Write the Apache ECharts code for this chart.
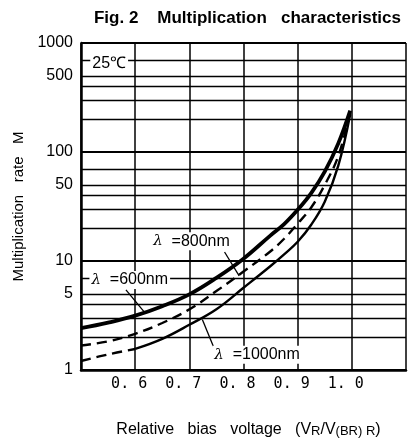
<!DOCTYPE html>
<html>
<head>
<meta charset="utf-8">
<script src="https://cdn.jsdelivr.net/npm/echarts@6/dist/echarts.min.js"></script>
<style>
  html, body { margin: 0; padding: 0; background: #fff; }
  #chart { width: 409px; height: 443px; }
</style>
</head>
<body>
<div id="chart"></div>
<script>
// relative bias voltage VR/V(BR)R
const voltage = [0.5, 0.55, 0.6, 0.65, 0.7, 0.75, 0.8, 0.85, 0.875, 0.9, 0.925, 0.95, 0.975, 0.997];
// multiplication rate M
const m600 = [2.42, 2.72, 3.15, 3.85, 4.94, 7.0, 10.5, 17.2, 21.8, 29.5, 42, 66, 120, 240];
const m800 = [1.68, 1.83, 2.15, 2.7, 3.6, 5.3, 8.0, 12.3, 16, 22, 31, 50, 92, 232];
const m1000 = [1.21, 1.39, 1.56, 1.93, 2.6, 3.61, 5.68, 9.0, 11.5, 15.0, 21.5, 35, 75, 222];
// 1000nm curve is drawn dashed up to this index
const dashEnd = 2;

const xTicks = [0.6, 0.7, 0.8, 0.9, 1.0];
const minorGrid = [2, 3, 4, 7, 20, 30, 40, 70, 200, 300, 400, 700];
const labeledGrid = [5, 50, 500];

const font = 'Liberation Sans';

function pairs(ys, from, to) {
  const out = [];
  for (let i = from; i <= to; i++) out.push([voltage[i], ys[i]]);
  return out;
}

function textMark(coord, text) {
  return {
    coord: coord,
    symbolSize: 0,
    label: {
      show: true,
      position: 'inside',
      formatter: text,
      color: '#000',
      backgroundColor: '#fff',
      padding: [1, 2],
      fontFamily: font,
      fontSize: 16,
      rich: {
        i: { fontStyle: 'italic', fontFamily: 'DejaVu Serif', fontSize: 15, color: '#000' }
      }
    }
  };
}

function pointer(a, b) {
  return [{ coord: a }, { coord: b }];
}

const gridLines = minorGrid.map(v => ({ yAxis: v }))
  .concat(labeledGrid.map(v => ({
    yAxis: v,
    label: {
      show: true, position: 'start', distance: 8, formatter: String(v),
      color: '#000', fontFamily: font, fontSize: 16
    }
  })));

const chart = echarts.init(document.getElementById('chart'));
chart.setOption({
  animation: false,
  backgroundColor: '#fff',
  title: {
    text: 'Fig. 2    Multiplication   characteristics',
    right: 3,
    top: 5,
    textStyle: { fontFamily: font, fontWeight: 'bold', fontSize: 17, color: '#000' }
  },
  grid: { left: 81, top: 43, right: -5, bottom: 70 },
  xAxis: {
    type: 'value',
    min: 0.5,
    max: 1.1,
    interval: 0.1,
    name: 'Relative   bias   voltage   (V{s|R}/V{s|(BR)}{s| R})',
    nameLocation: 'middle',
    nameGap: 52,
    nameTextStyle: {
      fontFamily: font, fontSize: 16, color: '#000', padding: [0, 0, 0, 10],
      rich: { s: { fontFamily: font, fontSize: 13, color: '#000', verticalAlign: 'bottom' } }
    },
    axisLine: { lineStyle: { color: '#000', width: 2.5 } },
    axisTick: { show: false },
    axisLabel: {
      color: '#000',
      fontFamily: 'DejaVu Sans Mono',
      fontSize: 15,
      margin: 7,
      padding: [0, 12, 0, 0],
      formatter: v => {
        const hit = xTicks.find(t => Math.abs(t - v) < 1e-6);
        return hit === undefined ? '' : hit.toFixed(1).replace('.', '. ');
      }
    },
    splitLine: { show: true, lineStyle: { color: '#000', width: 1.5 } }
  },
  yAxis: {
    type: 'log',
    logBase: 10,
    min: 1,
    max: 1000,
    name: 'Multiplication   rate   M',
    nameLocation: 'middle',
    nameGap: 36,
    nameTextStyle: { fontFamily: font, fontSize: 15, color: '#000' },
    axisLine: { show: true, lineStyle: { color: '#000', width: 2.5 } },
    axisTick: { show: false },
    axisLabel: { color: '#000', fontFamily: font, fontSize: 16, margin: 8, formatter: v => String(v) },
    splitLine: { show: true, lineStyle: { color: '#000', width: 1.8 } }
  },
  series: [
    {
      name: 'grid',
      type: 'line',
      data: [],
      z: 1,
      markLine: {
        silent: true,
        symbol: 'none',
        label: { show: false },
        lineStyle: { color: '#000', width: 1.3, type: 'solid' },
        data: gridLines
      }
    },
    {
      name: '600nm',
      type: 'line',
      data: pairs(m600, 0, voltage.length - 1),
      smooth: 0.4,
      symbol: 'none',
      z: 3,
      lineStyle: { color: '#000', width: 3.8 },
      markLine: {
        silent: true, symbol: 'none', label: { show: false },
        lineStyle: { color: '#000', width: 1.3, type: 'solid' },
        data: [pointer([0.583, 5.44], [0.617, 3.4])]
      },
      markPoint: { data: [textMark([0.59, 6.7], '{i|λ}  =600nm'), textMark([0.552, 644], '25℃')] }
    },
    {
      name: '800nm',
      type: 'line',
      data: pairs(m800, 0, voltage.length - 1),
      smooth: 0.4,
      symbol: 'none',
      z: 3,
      lineStyle: { color: '#000', width: 2.4, type: [10, 6] },
      markLine: {
        silent: true, symbol: 'none', label: { show: false },
        lineStyle: { color: '#000', width: 1.3, type: 'solid' },
        data: [pointer([0.765, 12.1], [0.792, 7.3])]
      },
      markPoint: { data: [textMark([0.704, 15.2], '{i|λ}  =800nm')] }
    },
    {
      name: '1000nm',
      type: 'line',
      data: pairs(m1000, dashEnd, voltage.length - 1),
      smooth: 0.4,
      symbol: 'none',
      z: 3,
      lineStyle: { color: '#000', width: 2.4 },
      markLine: {
        silent: true, symbol: 'none', label: { show: false },
        lineStyle: { color: '#000', width: 1.3, type: 'solid' },
        data: [pointer([0.745, 1.62], [0.724, 2.9])]
      },
      markPoint: { data: [textMark([0.825, 1.38], '{i|λ}  =1000nm')] }
    },
    {
      name: '1000nm-low',
      type: 'line',
      data: pairs(m1000, 0, dashEnd),
      smooth: 0.4,
      symbol: 'none',
      z: 3,
      lineStyle: { color: '#000', width: 2.4, type: [10, 6] }
    }
  ]
});
</script>
</body>
</html>
